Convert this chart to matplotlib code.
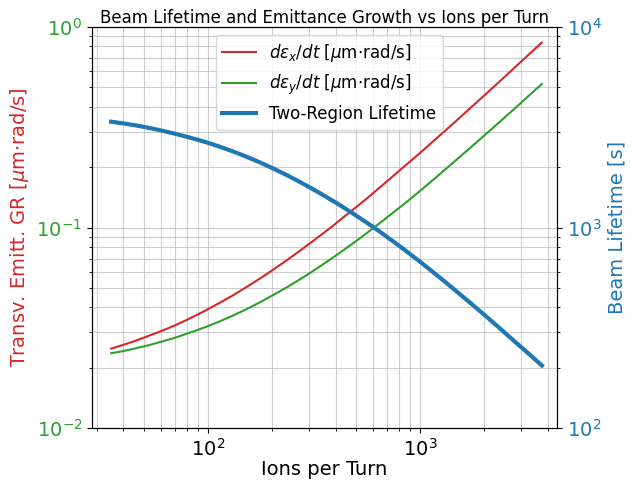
import matplotlib
matplotlib.use("Agg")
import matplotlib.pyplot as plt

# ions per turn
ions = [35, 40, 45, 52, 60, 70, 80, 90, 100, 115, 130, 145, 160, 180, 200, 235,
        270, 310, 350, 385, 420, 480, 550, 600, 650, 750, 850, 1000, 1200, 1400,
        1700, 2000, 2400, 2800, 3300, 3760]
# emittance growth rates [um rad/s]
gr_x = [0.0249, 0.0260, 0.0271, 0.0287, 0.0304, 0.0325, 0.0347, 0.0369, 0.0391,
        0.0424, 0.0456, 0.0489, 0.0522, 0.0565, 0.0609, 0.0685, 0.0762, 0.0849,
        0.0936, 0.101, 0.109, 0.122, 0.137, 0.148, 0.159, 0.181, 0.203, 0.235,
        0.279, 0.322, 0.388, 0.453, 0.540, 0.628, 0.737, 0.836]
gr_y = [0.0236, 0.0242, 0.0249, 0.0258, 0.0269, 0.0282, 0.0296, 0.0309, 0.0322,
        0.0342, 0.0362, 0.0382, 0.0402, 0.0429, 0.0456, 0.0502, 0.0549, 0.0602,
        0.0656, 0.0703, 0.0749, 0.0829, 0.0922, 0.0989, 0.1056, 0.119, 0.132,
        0.152, 0.179, 0.206, 0.246, 0.286, 0.339, 0.392, 0.459, 0.520]
# two-region lifetime [s]
lifetime = [3370, 3305, 3240, 3150, 3050, 2935, 2830, 2735, 2645, 2520, 2405,
            2300, 2205, 2090, 1985, 1828, 1693, 1562, 1451, 1366, 1292, 1180,
            1073, 1008, 950, 851, 771, 676, 579, 507, 427, 369, 312, 270, 232, 205]

fig = plt.figure(figsize=(6.34, 4.82), dpi=100)
ax = fig.add_axes([0.145, 0.112, 0.7335, 0.832])

l1, = ax.plot(ions, gr_x, color='tab:red', lw=1.5,
              label=r'$d\varepsilon_x/dt$ [$\mu$m$\cdot$rad/s]')
l2, = ax.plot(ions, gr_y, color='tab:green', lw=1.5,
              label=r'$d\varepsilon_y/dt$ [$\mu$m$\cdot$rad/s]')
ax.set_xscale('log')
ax.set_yscale('log')
ax.set_xlim(28.4, 4430)
ax.set_ylim(1e-2, 1)
ax.set_xlabel('Ions per Turn', fontsize=14, labelpad=0)
ax.set_ylabel(r'Transv. Emitt. GR [$\mu$m$\cdot$rad/s]', color='tab:red', fontsize=14)
ax.tick_params(axis='y', labelcolor='tab:green', labelsize=14)
ax.tick_params(axis='x', labelsize=14)
ax.grid(True, which='both', color='#b0b0b0', alpha=0.6, lw=0.8)

ax2 = ax.twinx()
l3, = ax2.plot(ions, lifetime, color='tab:blue', lw=3, label='Two-Region Lifetime')
ax2.set_yscale('log')
ax2.set_ylim(1e2, 1e4)
ax2.set_ylabel('Beam Lifetime [s]', color='tab:blue', fontsize=14)
ax2.tick_params(axis='y', labelcolor='tab:blue', labelsize=14)

ax2.legend(handles=[l1, l2, l3], loc='upper center', fontsize=12,
           bbox_to_anchor=(0.51, 1.0))
ax.set_title('Beam Lifetime and Emittance Growth vs Ions per Turn', fontsize=12, pad=2)

fig.savefig('out.png', dpi=100)
